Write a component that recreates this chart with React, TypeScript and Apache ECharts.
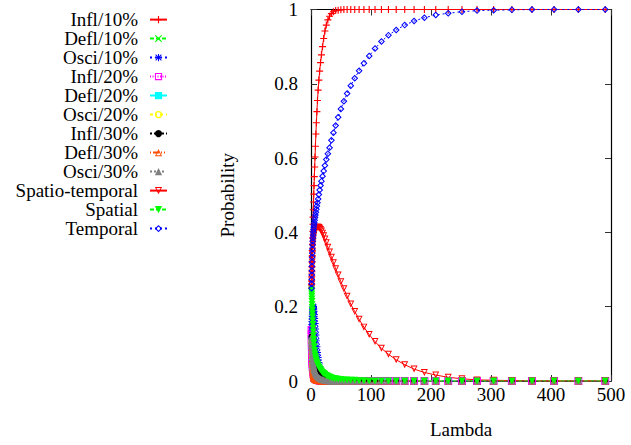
import React, { useEffect, useRef } from "react";
import * as echarts from "echarts";

// Lambda sample points
const lambda = [
  1, 1.1, 1.21, 1.33, 1.46, 1.61, 1.77, 1.95, 2.14, 2.36,
  2.59, 2.85, 3.14, 3.45, 3.8, 4.18, 4.59, 5.05, 5.56, 6.12,
  6.73, 7.4, 8.14, 8.95, 9.85, 10.8, 11.9, 13.1, 14.4, 15.9,
  17.4, 19.2, 21.1, 23.2, 25.5, 28.1, 30.9, 34, 37.4, 41.1,
  45.3, 49.8, 54.8, 60.2, 66.3, 72.9, 80.2, 88.2, 97, 106.7,
  117.4, 129.1, 142, 156.2, 171.8, 189, 207.9, 228.7, 251.6, 276.7,
  304.4, 334.8, 368.3, 405.1, 445.6, 490.4,
];

const infl10 = [
  0.25, 0.26, 0.27, 0.282, 0.294, 0.307, 0.321, 0.336, 0.351, 0.368,
  0.385, 0.403, 0.422, 0.441, 0.461, 0.482, 0.503, 0.526, 0.55, 0.576,
  0.603, 0.632, 0.665, 0.695, 0.725, 0.755, 0.783, 0.81, 0.834, 0.857,
  0.878, 0.9, 0.922, 0.942, 0.958, 0.972, 0.982, 0.989, 0.994, 0.997,
  0.998, 0.999, 1, 1, 1, 1, 1, 1, 1, 1,
  1, 1, 1, 1, 1, 1, 1, 1, 1, 1,
  1, 1, 1, 1, 1, 1,
];
const defl10 = [
  0.12, 0.116, 0.112, 0.107, 0.102, 0.097, 0.091, 0.085, 0.079, 0.073,
  0.067, 0.061, 0.055, 0.049, 0.043, 0.038, 0.033, 0.028, 0.024, 0.02,
  0.017, 0.014, 0.012, 0.01, 0.008, 0.007, 0.006, 0.005, 0.004, 0.003,
  0.003, 0.002, 0.002, 0.001, 0.001, 0.001, 0, 0, 0, 0,
  0, 0, 0, 0, 0, 0, 0, 0, 0, 0,
  0, 0, 0, 0, 0, 0, 0, 0, 0, 0,
  0, 0, 0, 0, 0, 0,
];
const osci10 = [
  0.12, 0.128, 0.136, 0.144, 0.152, 0.16, 0.167, 0.174, 0.18, 0.186,
  0.191, 0.195, 0.198, 0.2, 0.2, 0.198, 0.194, 0.188, 0.179, 0.168,
  0.155, 0.14, 0.124, 0.108, 0.092, 0.077, 0.063, 0.05, 0.039, 0.03,
  0.022, 0.016, 0.011, 0.008, 0.005, 0.004, 0.003, 0.002, 0.001, 0.001,
  0, 0, 0, 0, 0, 0, 0, 0, 0, 0,
  0, 0, 0, 0, 0, 0, 0, 0, 0, 0,
  0, 0, 0, 0, 0, 0,
];
const infl20 = [
  0.137, 0.125, 0.114, 0.103, 0.093, 0.083, 0.074, 0.066, 0.058, 0.051,
  0.045, 0.039, 0.034, 0.029, 0.025, 0.021, 0.018, 0.015, 0.012, 0.01,
  0.008, 0.007, 0.006, 0.005, 0.004, 0.003, 0.003, 0.002, 0.002, 0.001,
  0.001, 0, 0, 0, 0, 0, 0, 0, 0, 0,
  0, 0, 0, 0, 0, 0, 0, 0, 0, 0,
  0, 0, 0, 0, 0, 0, 0, 0, 0, 0,
  0, 0, 0, 0, 0, 0,
];
const defl20 = [
  0.115, 0.105, 0.096, 0.087, 0.078, 0.07, 0.062, 0.055, 0.048, 0.042,
  0.036, 0.031, 0.027, 0.023, 0.019, 0.016, 0.013, 0.011, 0.009, 0.007,
  0.006, 0.005, 0.004, 0.003, 0.003, 0.002, 0.002, 0.001, 0.001, 0.001,
  0, 0, 0, 0, 0, 0, 0, 0, 0, 0,
  0, 0, 0, 0, 0, 0, 0, 0, 0, 0,
  0, 0, 0, 0, 0, 0, 0, 0, 0, 0,
  0, 0, 0, 0, 0, 0,
];
const osci20 = [
  0.11, 0.107, 0.104, 0.1, 0.096, 0.092, 0.087, 0.082, 0.077, 0.072,
  0.067, 0.062, 0.057, 0.052, 0.047, 0.043, 0.039, 0.035, 0.031, 0.027,
  0.024, 0.021, 0.018, 0.015, 0.013, 0.011, 0.009, 0.007, 0.006, 0.005,
  0.004, 0.003, 0.002, 0.002, 0.001, 0.001, 0, 0, 0, 0,
  0, 0, 0, 0, 0, 0, 0, 0, 0, 0,
  0, 0, 0, 0, 0, 0, 0, 0, 0, 0,
  0, 0, 0, 0, 0, 0,
];
const infl30 = [
  0.12, 0.118, 0.115, 0.112, 0.109, 0.105, 0.101, 0.097, 0.093, 0.089,
  0.085, 0.08, 0.075, 0.07, 0.065, 0.06, 0.055, 0.05, 0.045, 0.041,
  0.037, 0.033, 0.029, 0.026, 0.023, 0.02, 0.017, 0.015, 0.013, 0.011,
  0.009, 0.008, 0.007, 0.006, 0.005, 0.004, 0.003, 0.002, 0.002, 0.001,
  0.001, 0, 0, 0, 0, 0, 0, 0, 0, 0,
  0, 0, 0, 0, 0, 0, 0, 0, 0, 0,
  0, 0, 0, 0, 0, 0,
];
const defl30 = [
  0.11, 0.1, 0.09, 0.08, 0.07, 0.06, 0.052, 0.045, 0.038, 0.032,
  0.027, 0.022, 0.018, 0.015, 0.012, 0.01, 0.008, 0.007, 0.006, 0.005,
  0.004, 0.004, 0.003, 0.003, 0.002, 0.002, 0.002, 0.001, 0.001, 0.001,
  0, 0, 0, 0, 0, 0, 0, 0, 0, 0,
  0, 0, 0, 0, 0, 0, 0, 0, 0, 0,
  0, 0, 0, 0, 0, 0, 0, 0, 0, 0,
  0, 0, 0, 0, 0, 0,
];
const osci30 = [
  0.12, 0.117, 0.113, 0.109, 0.104, 0.099, 0.094, 0.088, 0.082, 0.076,
  0.07, 0.064, 0.058, 0.053, 0.048, 0.043, 0.039, 0.035, 0.031, 0.028,
  0.025, 0.022, 0.019, 0.017, 0.015, 0.013, 0.011, 0.009, 0.008, 0.006,
  0.005, 0.004, 0.003, 0.002, 0.002, 0.001, 0, 0, 0, 0,
  0, 0, 0, 0, 0, 0, 0, 0, 0, 0,
  0, 0, 0, 0, 0, 0, 0, 0, 0, 0,
  0, 0, 0, 0, 0, 0,
];
const spatioTemporal = [
  0.25, 0.26, 0.27, 0.28, 0.29, 0.3, 0.31, 0.32, 0.33, 0.34,
  0.35, 0.36, 0.368, 0.375, 0.382, 0.388, 0.393, 0.398, 0.402, 0.405,
  0.408, 0.41, 0.412, 0.413, 0.414, 0.414, 0.414, 0.413, 0.411, 0.408,
  0.404, 0.398, 0.391, 0.382, 0.372, 0.36, 0.347, 0.333, 0.318, 0.302,
  0.285, 0.267, 0.248, 0.228, 0.207, 0.187, 0.166, 0.145, 0.125, 0.106,
  0.088, 0.072, 0.057, 0.044, 0.032, 0.023, 0.016, 0.01, 0.006, 0.003,
  0.002, 0.001, 0, 0, 0, 0,
];
const spatial = [
  0.245, 0.24, 0.234, 0.228, 0.221, 0.214, 0.206, 0.198, 0.19, 0.181,
  0.172, 0.162, 0.152, 0.142, 0.132, 0.122, 0.112, 0.102, 0.092, 0.082,
  0.073, 0.066, 0.06, 0.055, 0.05, 0.045, 0.041, 0.037, 0.033, 0.03,
  0.026, 0.023, 0.02, 0.018, 0.015, 0.013, 0.011, 0.009, 0.007, 0.006,
  0.005, 0.004, 0.003, 0.003, 0.002, 0.002, 0.001, 0.001, 0, 0,
  0, 0, 0, 0, 0, 0, 0, 0, 0, 0,
  0, 0, 0, 0, 0, 0,
];
const temporal = [
  0.25, 0.262, 0.273, 0.285, 0.297, 0.309, 0.321, 0.333, 0.344, 0.355,
  0.366, 0.376, 0.385, 0.393, 0.401, 0.408, 0.414, 0.42, 0.426, 0.433,
  0.44, 0.447, 0.454, 0.462, 0.471, 0.48, 0.49, 0.502, 0.514, 0.526,
  0.538, 0.551, 0.565, 0.58, 0.596, 0.612, 0.628, 0.648, 0.668, 0.688,
  0.71, 0.732, 0.753, 0.774, 0.795, 0.815, 0.835, 0.855, 0.875, 0.895,
  0.914, 0.931, 0.945, 0.958, 0.969, 0.978, 0.985, 0.99, 0.994, 0.997,
  0.998, 0.999, 1, 1, 1, 1,
];

const seriesNames = [
  "Infl/10%", "Defl/10%", "Osci/10%",
  "Infl/20%", "Defl/20%", "Osci/20%",
  "Infl/30%", "Defl/30%", "Osci/30%",
  "Spatio-temporal", "Spatial", "Temporal",
];
const seriesValues = [
  infl10, defl10, osci10, infl20, defl20, osci20,
  infl30, defl30, osci30, spatioTemporal, spatial, temporal,
];

const xTicks = { min: 0, max: 500, interval: 100 };
const yTicks = { min: 0, max: 1, interval: 0.2 };

// gnuplot-like point types
const SYM = {
  plus: "path://M4.2,0H5.8V10H4.2ZM0,4.2H10V5.8H0Z",
  cross: "path://M0,1.1L1.1,0L5,3.9L8.9,0L10,1.1L6.1,5L10,8.9L8.9,10L5,6.1L1.1,10L0,8.9L3.9,5Z",
  star: "path://M4.3,0H5.7V10H4.3ZM0,4.3H10V5.7H0ZM0.5,1.5L1.5,0.5L9.5,8.5L8.5,9.5ZM8.5,0.5L9.5,1.5L1.5,9.5L0.5,8.5Z",
  box: "path://M0,0H10V10H0ZM1.5,1.5V8.5H8.5V1.5Z",
  fbox: "path://M0,0H10V10H0Z",
  circ: "path://M5,0A5,5 0 1 1 5,10A5,5 0 1 1 5,0ZM5,1.6A3.4,3.4 0 1 0 5,8.4A3.4,3.4 0 1 0 5,1.6Z",
  fcirc: "circle",
  tri: "path://M5,0L10,10H0ZM5,3.3L2,8.6H8Z",
  ftri: "path://M5,0L10,10H0Z",
  itri: "path://M0,0H10L5,10ZM2,1.4L5,6.7L8,1.4Z",
  fitri: "path://M0,0H10L5,10Z",
  dia: "path://M5,0L10,5L5,10L0,5ZM5,2.1L2.1,5L5,7.9L7.9,5Z",
};

const styles = [
  { color: "#ff0000", dash: "solid", sym: SYM.plus, size: 7 },
  { color: "#00ff00", dash: [4, 2], sym: SYM.cross, size: 6 },
  { color: "#0000ff", dash: [2, 3], sym: SYM.star, size: 7 },
  { color: "#ff00ff", dash: [1, 1.5], sym: SYM.box, size: 8 },
  { color: "#00ffff", dash: [6, 2, 1, 2], sym: SYM.fbox, size: 6 },
  { color: "#ffff00", dash: [3, 3, 1, 3], sym: SYM.circ, size: 6 },
  { color: "#000000", dash: [2, 2, 2, 6], sym: SYM.fcirc, size: 6 },
  { color: "#ff4d00", dash: [1, 2, 6, 2, 1, 2], sym: SYM.tri, size: 7 },
  { color: "#808080", dash: [2, 2, 2, 2, 2, 2, 2, 4], sym: SYM.ftri, size: 7 },
  { color: "#ff0000", dash: "solid", sym: SYM.itri, size: 7 },
  { color: "#00ff00", dash: [4, 2], sym: SYM.fitri, size: 7 },
  { color: "#0000ff", dash: [2, 3], sym: SYM.dia, size: 7 },
];

const FONT = "'Liberation Serif', 'Times New Roman', 'DejaVu Serif', serif";

export default function App() {
  const ref = useRef<HTMLDivElement>(null);
  useEffect(() => {
    if (!ref.current) return;
    const chart = echarts.init(ref.current, undefined, { renderer: "svg" });
    const series = seriesNames.map((name, k) => {
      const s = styles[k];
      return {
        name,
        type: "line",
        xAxisIndex: 0,
        yAxisIndex: 0,
        data: lambda.map((x, i) => [x, seriesValues[k][i]]),
        symbol: s.sym,
        symbolSize: s.size,
        showSymbol: true,
        showAllSymbol: true,
        lineStyle: { color: s.color, width: 1, type: s.dash },
        itemStyle: { color: s.color, borderWidth: 0 },
        emphasis: { disabled: true },
      };
    });
    const axisCommon = {
      type: "value",
      axisLine: { show: true, onZero: false, lineStyle: { color: "#000", width: 1.2 } },
      axisTick: { show: true, inside: true, length: 6, lineStyle: { color: "#333", width: 1 } },
      splitLine: { show: false },
    };
    chart.setOption({
      animation: false,
      backgroundColor: "#fff",
      textStyle: { fontFamily: FONT },
      grid: { left: 311, right: 20, top: 9, bottom: 64, containLabel: false },
      legend: {
        orient: "vertical",
        left: 8,
        top: 10.1,
        padding: 0,
        itemGap: 0,
        itemWidth: 17,
        itemHeight: 9,
        align: "right",
        selectedMode: false,
        data: seriesNames,
        formatter: "{n|{name}}",
        textStyle: {
          fontFamily: FONT,
          color: "#000",
          rich: {
            n: {
              fontFamily: FONT,
              fontSize: 19,
              color: "#000",
              width: 130,
              align: "right",
              lineHeight: 19.8,
              padding: [0, 7, 0, 0],
            },
          },
        },
      },
      xAxis: [
        {
          ...axisCommon,
          position: "bottom",
          ...xTicks,
          name: "Lambda",
          nameLocation: "middle",
          nameGap: 39,
          nameTextStyle: { fontFamily: FONT, fontSize: 19, color: "#000" },
          axisLabel: { fontFamily: FONT, fontSize: 19, color: "#000", margin: 4 },
        },
        {
          ...axisCommon,
          position: "top",
          ...xTicks,
          axisLabel: { show: false },
        },
      ],
      yAxis: [
        {
          ...axisCommon,
          position: "left",
          ...yTicks,
          name: "Probability",
          nameLocation: "middle",
          nameRotate: 90,
          nameGap: 74,
          nameTextStyle: { fontFamily: FONT, fontSize: 19, color: "#000" },
          axisLabel: { fontFamily: FONT, fontSize: 19, color: "#000", margin: 13 },
        },
        {
          ...axisCommon,
          position: "right",
          ...yTicks,
          axisLabel: { show: false },
        },
      ],
      series,
    });
    return () => chart.dispose();
  }, []);
  return (
    <div
      ref={ref}
      style={{ position: "fixed", left: 0, top: 0, width: 631, height: 445 }}
    />
  );
}
